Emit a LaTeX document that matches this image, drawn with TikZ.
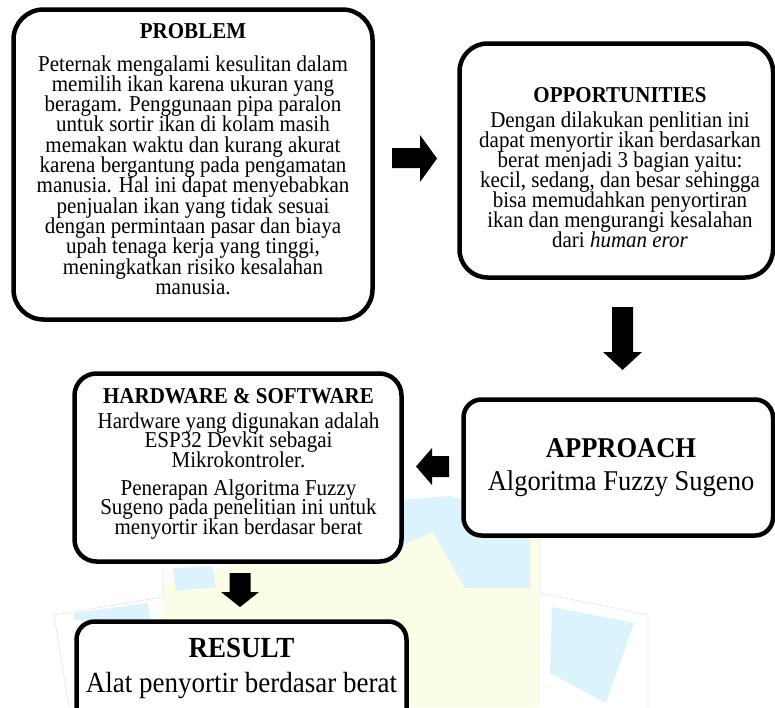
\documentclass[tikz,border=0pt]{standalone}
\usepackage{fontspec}
\usepackage{graphicx}
\setmainfont{Liberation Serif}
\newcommand\mylines[2]{\scalebox{1}[1.08]{\parbox[t]{#1}{\centering\lineskiplimit=-40pt\relax #2}}}
\newcommand\vst[1]{\scalebox{1}[1.08]{#1}}
\definecolor{wmblue}{RGB}{218,243,252}
\definecolor{wmyellow}{RGB}{251,253,230}
\definecolor{wmline}{RGB}{234,234,234}
\tikzset{
  box/.style={draw=black, line width=4.5pt, rounded corners=#1, fill=white, inner sep=0pt},
  body/.style={inner sep=0pt, anchor=base, font=\fontsize{21}{18.8}\selectfont},
  title/.style={inner sep=0pt, anchor=base, font=\fontsize{21}{18.8}\selectfont\bfseries},
  bigtitle/.style={inner sep=0pt, anchor=base, font=\fontsize{26.5}{30}\selectfont\bfseries},
  bigbody/.style={inner sep=0pt, anchor=base, font=\fontsize{26.5}{30}\selectfont},
  blockarrow/.style={fill=black},
  wmfill/.style={fill=#1, draw=none},
  wmedge/.style={draw=wmline, line width=0.8pt}
}
\begin{document}
\begin{tikzpicture}[x=1pt,y=-1pt]
\useasboundingbox (0,0) rectangle (775,707);
\clip (0,0) rectangle (775,707);
\fill[white] (0,0) rectangle (775,707);

% faint watermark in the background
\fill[wmfill=wmyellow] (163,585) -- (250,560) -- (300,522) -- (420,498) -- (540,515) -- (540,707) -- (163,707) -- cycle;
\fill[wmfill=wmblue] (402,500) -- (450,496) -- (530,522) -- (530,588) -- (465,588) -- (433,532) -- (402,545) -- cycle;
\fill[wmfill=wmblue] (173,568) -- (212,566) -- (216,587) -- (176,591) -- cycle;
\fill[wmfill=wmblue] (74,613) -- (148,603) -- (150,620) -- (74,620) -- cycle;
\fill[wmfill=wmblue] (552,607) -- (634,623) -- (606,703) -- (550,673) -- cycle;
\draw[wmedge] (69,707) -- (54,615) -- (163,597) -- (163,567);
\draw[wmedge] (540,513) -- (540,593) -- (648,615) -- (648,707);

% boxes
\node[box=30pt, minimum width=359pt, minimum height=310pt] (problem) at (193,164.5) {};
\node[box=28pt, minimum width=313.5pt, minimum height=234pt] (opp) at (616.25,160.5) {};
\node[box=18pt, minimum width=309.5pt, minimum height=136pt] (approach) at (618.25,467.5) {};
\node[box=22pt, minimum width=327pt, minimum height=188pt] (hw) at (238,467.5) {};
\node[box=18pt, minimum width=330pt, minimum height=110pt] (result) at (241.5,676.5) {};

% PROBLEM
\node[title] (problemtitle) at (193,38) {\vst{PROBLEM}};
\node[body] (problemtext) at (193,71) {\mylines{355pt}{Peternak mengalami kesulitan dalam\\
memilih ikan karena ukuran yang\\
beragam. Penggunaan pipa paralon\\
untuk sortir ikan di kolam masih\\
memakan waktu dan kurang akurat\\
karena bergantung pada pengamatan\\
manusia. Hal ini dapat menyebabkan\\
penjualan ikan yang tidak sesuai\\
dengan permintaan pasar dan biaya\\
upah tenaga kerja yang tinggi,\\
meningkatkan risiko kesalahan\\
manusia.}};

% OPPORTUNITIES
\node[title] (opptitle) at (620,102) {\vst{OPPORTUNITIES}};
\node[body, font=\fontsize{21}{18.6}\selectfont] (opptext) at (620,127) {\mylines{310pt}{Dengan dilakukan penlitian ini\\
dapat menyortir ikan berdasarkan\\
berat menjadi 3 bagian yaitu:\\
kecil, sedang, dan besar sehingga\\
bisa memudahkan penyortiran\\
ikan dan mengurangi kesalahan\\
dari \textit{human eror}}};

% APPROACH
\node[bigtitle] (approachtitle) at (621,457) {\vst{APPROACH}};
\node[bigbody] (approachtext) at (621,490) {\vst{Algoritma Fuzzy Sugeno}};

% HARDWARE & SOFTWARE
\node[title] (hwtitle) at (238.5,403) {\vst{HARDWARE \& SOFTWARE}};
\node[body, font=\fontsize{21}{18.5}\selectfont] (hwtext1) at (238.5,428) {\mylines{325pt}{Hardware yang digunakan adalah\\
ESP32 Devkit sebagai\\
Mikrokontroler.}};
\node[body, font=\fontsize{21}{18.5}\selectfont] (hwtext2) at (238.5,495) {\mylines{325pt}{Penerapan Algoritma Fuzzy\\
Sugeno pada penelitian ini untuk\\
menyortir ikan berdasar berat}};

% RESULT
\node[bigtitle, font=\fontsize{27}{30}\selectfont\bfseries] (resulttitle) at (241.5,657) {\vst{RESULT}};
\node[bigbody, font=\fontsize{27}{30}\selectfont] (resulttext) at (241.5,692) {\vst{Alat penyortir berdasar berat}};

% block arrows
\fill[blockarrow] (392,148) -- (420,148) -- (420,135) -- (437,158.5) -- (420,182) -- (420,168) -- (392,168) -- cycle;
\fill[blockarrow] (612,307) -- (633,307) -- (633,352) -- (642,352) -- (622.5,370) -- (603,352) -- (612,352) -- cycle;
\fill[blockarrow] (449,456) -- (432,456) -- (432,448) -- (416,466.5) -- (432,485) -- (432,477) -- (449,477) -- cycle;
\fill[blockarrow] (229.5,573) -- (250.5,573) -- (250.5,592) -- (259,592) -- (240,607) -- (221,592) -- (229.5,592) -- cycle;
\end{tikzpicture}
\end{document}
